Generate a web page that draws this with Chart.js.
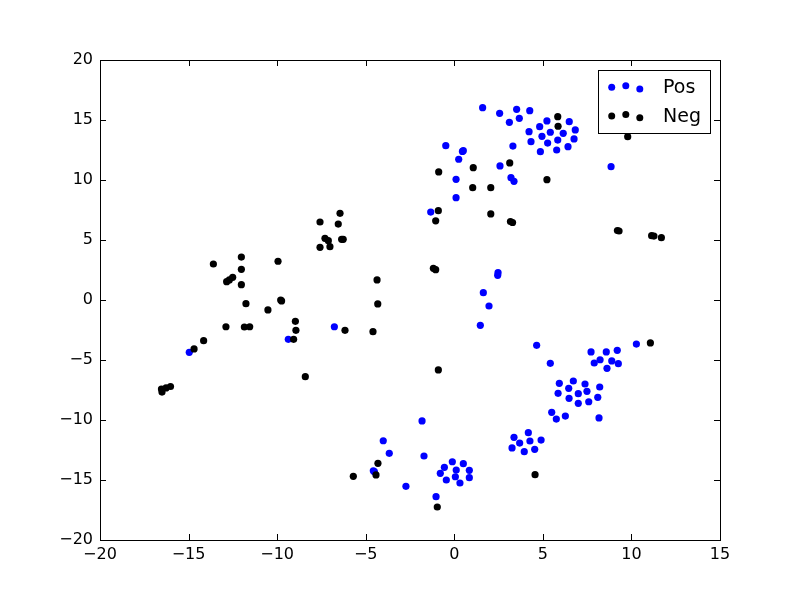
<!DOCTYPE html>
<html lang="en">
<head>
    <meta charset="UTF-8">
    <title>Pos / Neg scatter</title>
    <script src="https://cdn.jsdelivr.net/npm/chart.js"></script>
    <style>
        body { margin: 0; background: #fff; }
    </style>
</head>
<body>
    <canvas id="scatterChart" width="800" height="600"></canvas>

    <script>
        // tick values
        const xTicks = [-20, -15, -10, -5, 0, 5, 10, 15];
        const yTicks = [-20, -15, -10, -5, 0, 5, 10, 15, 20];

        // Pos series (blue)
        const posX = [1.60, 2.56, 3.52, 4.26, 3.11, 3.67, 4.22, 4.82, 5.23, 6.49, 6.83, 6.15, 5.42, 4.95, 4.33, 3.31,
            5.27, 5.84, 6.76, 6.42, 5.78, 4.86, 2.58, 3.20, 3.37, 8.85, -0.48, 0.51, 0.46, 0.25, 0.10, 0.10, -1.33,
            2.47, 2.45, 1.64, 1.96, 1.47, -6.77, -14.96, -9.37, 4.65, 5.42, 7.72, 8.58, 9.20, 10.28, 8.23, 7.90,
            8.89, 9.26, 8.62, 5.93, 6.72, 7.38, 8.21, 5.86, 6.46, 7.00, 7.49, 6.48, 7.00, 7.59, 8.10, 5.50, 5.76,
            6.27, 8.17, 4.18, 3.37, 3.69, 4.27, 4.90, 3.26, 3.95, 4.54, -1.82, -4.01, -3.67, -1.71, -4.57, -4.51,
            -2.73, -1.03, -0.11, 0.51, -0.56, 0.11, 0.85, -0.79, 0.06, 0.85, -0.45, 0.32];
        const posY = [16.03, 15.56, 15.89, 15.78, 14.81, 15.14, 14.03, 14.44, 14.92, 14.86, 14.17, 13.89, 13.98, 13.64, 13.19, 12.83,
            13.08, 13.33, 13.42, 12.78, 12.50, 12.36, 11.17, 10.19, 9.89, 11.11, 12.86, 12.44, 12.38, 11.73, 10.06, 8.53, 7.33,
            2.28, 2.06, 0.61, -0.50, -2.11, -2.23, -4.36, -3.28, -3.78, -5.28, -4.33, -4.33, -4.19, -3.67, -4.98, -5.25,
            -5.08, -5.31, -5.69, -6.94, -6.75, -7.00, -7.25, -7.78, -7.36, -7.81, -7.61, -8.19, -8.61, -8.48, -8.11, -9.36, -9.92,
            -9.67, -9.83, -11.06, -11.44, -11.92, -11.75, -11.67, -12.33, -12.64, -12.44, -10.08, -11.73, -12.78, -13.00, -14.23, -14.31,
            -15.53, -16.39, -13.48, -13.64, -13.94, -14.17, -14.19, -14.44, -14.73, -14.81, -15.00, -15.25];

        // Neg series (black)
        const negX = [5.84, 5.86, 9.79, 3.13, 5.23, 3.17, 3.29, -0.88, 1.07, 1.04, 2.06, -0.90, -1.05, 2.06, -6.45, -7.58,
            -6.55, -7.30, -7.11, -7.58, -7.02, -6.36, -6.27, -1.18, -1.05, -4.36, -4.32, -6.17, -4.59, -8.41, -0.90,
            -13.60, -12.02, -12.02, -12.85, -12.70, -12.51, -12.02, -9.95, -11.76, -9.80, -9.75, -10.52, -12.89, -11.85,
            -11.55, -14.15, -14.69, -8.97, -8.94, -9.07, -16.53, -16.50, -16.27, -16.02, 9.30, 9.21, 11.14, 11.27, 11.69,
            11.07, 4.56, -4.31, -4.42, -5.70, -0.96];
        const negY = [15.28, 14.48, 13.61, 11.42, 10.03, 6.54, 6.46, 10.67, 11.03, 9.36, 9.36, 7.44, 6.60, 7.17, 7.22, 6.50,
            6.33, 5.14, 4.94, 4.39, 4.44, 5.06, 5.06, 2.64, 2.53, 1.67, -0.33, -2.53, -2.64, -6.39, -5.83,
            3.00, 3.58, 2.56, 1.53, 1.67, 1.89, 1.28, 3.23, -0.31, 0.00, -0.08, -0.83, -2.23, -2.25,
            -2.23, -3.39, -4.08, -1.78, -2.53, -3.28, -7.42, -7.67, -7.33, -7.21, 5.75, 5.79, 5.36, 5.33, 5.19,
            -3.58, -14.56, -13.61, -14.58, -14.69, -17.25];

        const toPoints = (xs, ys) => xs.map((x, i) => ({ x: x, y: ys[i] }));
        const minus = v => String(v).replace('-', '\u2212');

        // frame + inward ticks on all four sides, like the original
        const framePlugin = {
            id: 'frame',
            afterDatasetsDraw(chart) {
                const { ctx, chartArea: a, scales } = chart;
                const len = 6;
                ctx.save();
                ctx.strokeStyle = '#000';
                ctx.lineWidth = 1;
                ctx.beginPath();
                xTicks.forEach(t => {
                    const px = Math.round(scales.x.getPixelForValue(t)) + 0.5;
                    ctx.moveTo(px, a.bottom); ctx.lineTo(px, a.bottom - len);
                    ctx.moveTo(px, a.top); ctx.lineTo(px, a.top + len);
                });
                yTicks.forEach(t => {
                    const py = Math.round(scales.y.getPixelForValue(t)) + 0.5;
                    ctx.moveTo(a.left, py); ctx.lineTo(a.left + len, py);
                    ctx.moveTo(a.right, py); ctx.lineTo(a.right - len, py);
                });
                ctx.stroke();
                ctx.strokeRect(Math.round(a.left) + 0.5, Math.round(a.top) + 0.5,
                    Math.round(a.right - a.left), Math.round(a.bottom - a.top));
                ctx.restore();
            }
        };

        // matplotlib style legend with three scatter markers per entry
        const legendPlugin = {
            id: 'mplLegend',
            afterDraw(chart) {
                const { ctx, chartArea: a } = chart;
                const w = 112, h = 63;
                const left = a.right - 10 - w, top = a.top + 10;
                ctx.save();
                ctx.fillStyle = '#fff';
                ctx.fillRect(left, top, w, h);
                ctx.strokeStyle = '#000';
                ctx.lineWidth = 1;
                ctx.strokeRect(Math.round(left) + 0.5, Math.round(top) + 0.5, w, h);
                const entries = [
                    { label: 'Pos', color: '#0000ff', y: 15.7 },
                    { label: 'Neg', color: '#000000', y: 44.5 }
                ];
                const xs = [13.7, 27.8, 41.8];
                const offs = [1.5, 0, 3.2];
                entries.forEach(e => {
                    ctx.fillStyle = e.color;
                    xs.forEach((dx, i) => {
                        ctx.beginPath();
                        ctx.arc(left + dx, top + e.y + offs[i], 3.5, 0, Math.PI * 2);
                        ctx.fill();
                    });
                    ctx.fillStyle = '#000';
                    ctx.font = '19px "DejaVu Sans"';
                    ctx.textBaseline = 'alphabetic';
                    ctx.fillText(e.label, left + 65, top + e.y + 7.5);
                });
                ctx.restore();
            }
        };

        const ctx = document.getElementById('scatterChart').getContext('2d');
        const chart = new Chart(ctx, {
            type: 'scatter',
            data: {
                datasets: [
                    {
                        label: 'Pos',
                        data: toPoints(posX, posY),
                        backgroundColor: '#0000ff',
                        borderWidth: 0,
                        pointRadius: 3.6,
                        order: 2
                    },
                    {
                        label: 'Neg',
                        data: toPoints(negX, negY),
                        backgroundColor: '#000000',
                        borderWidth: 0,
                        pointRadius: 3.6,
                        order: 1
                    }
                ]
            },
            options: {
                responsive: false,
                animation: false,
                layout: { padding: { top: 60, right: 80, left: 0, bottom: 0 } },
                plugins: {
                    legend: { display: false },
                    tooltip: { enabled: false }
                },
                scales: {
                    x: {
                        type: 'linear',
                        min: -20,
                        max: 15,
                        afterFit: s => { s.height = 60; },
                        afterBuildTicks: s => { s.ticks = xTicks.map(v => ({ value: v })); },
                        grid: { display: false, drawTicks: false },
                        border: { display: false },
                        ticks: {
                            color: '#000',
                            padding: 5,
                            maxRotation: 0,
                            autoSkip: false,
                            font: { family: 'DejaVu Sans', size: 16 },
                            callback: v => minus(v)
                        }
                    },
                    y: {
                        type: 'linear',
                        min: -20,
                        max: 20,
                        afterFit: s => { s.width = 100; },
                        afterBuildTicks: s => { s.ticks = yTicks.map(v => ({ value: v })); },
                        grid: { display: false, drawTicks: false },
                        border: { display: false },
                        ticks: {
                            color: '#000',
                            padding: 7,
                            autoSkip: false,
                            font: { family: 'DejaVu Sans', size: 16 },
                            callback: v => minus(v)
                        }
                    }
                }
            },
            plugins: [framePlugin, legendPlugin]
        });
    </script>
</body>
</html>
